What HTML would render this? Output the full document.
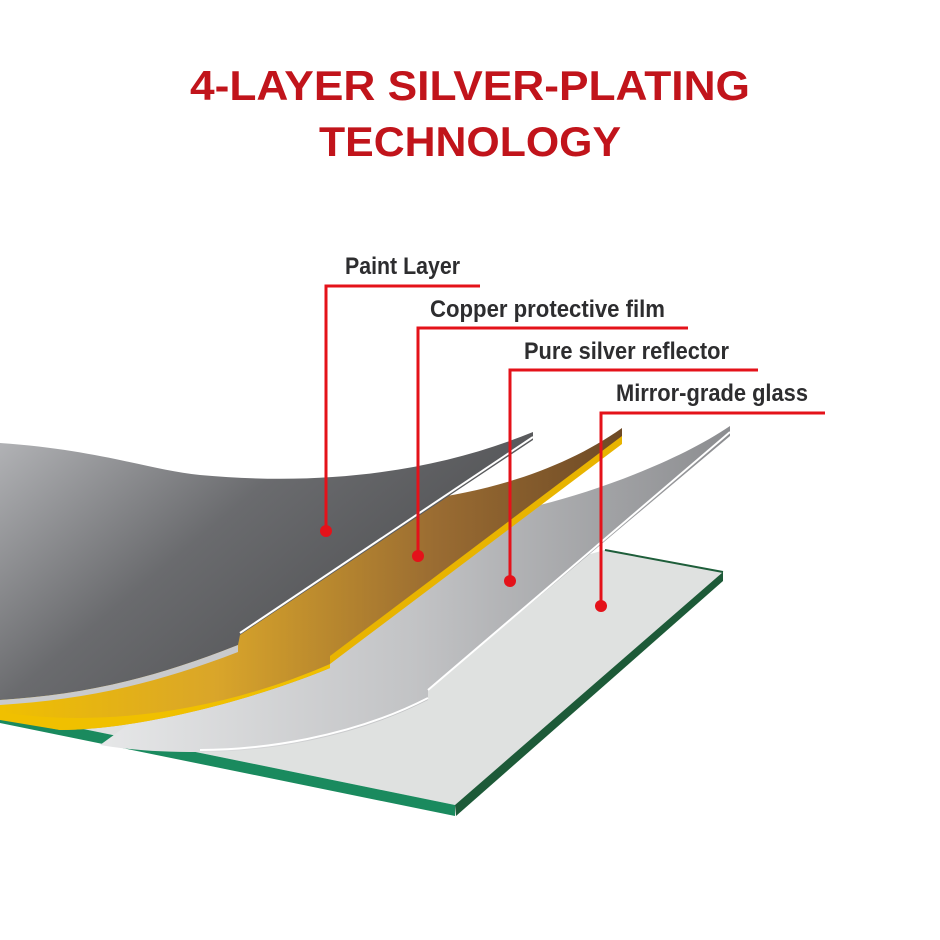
<!DOCTYPE html>
<html><head><meta charset="utf-8"><style>html,body{margin:0;padding:0;background:#fff}svg{display:block}</style></head>
<body>
<svg width="940" height="940" viewBox="0 0 940 940" xmlns="http://www.w3.org/2000/svg">
<defs>
<linearGradient id="paint" x1="0" y1="0" x2="1" y2="0.6">
<stop offset="0" stop-color="#b4b5b8"/><stop offset="0.45" stop-color="#6a6b6e"/><stop offset="1" stop-color="#4a4b4d"/></linearGradient>
<linearGradient id="cop" x1="0" y1="0" x2="1" y2="0">
<stop offset="0" stop-color="#f0c000"/><stop offset="0.35" stop-color="#d9a52a"/><stop offset="0.7" stop-color="#9a6c32"/><stop offset="1" stop-color="#6e4a26"/></linearGradient>
<linearGradient id="sil" x1="0" y1="0" x2="1" y2="0">
<stop offset="0" stop-color="#e6e7e8"/><stop offset="0.5" stop-color="#c2c3c5"/><stop offset="1" stop-color="#8c8d90"/></linearGradient>
</defs>
<text x="470" y="100" text-anchor="middle" font-family="Liberation Sans, sans-serif" font-weight="bold" font-size="42" fill="#c1141b" textLength="560" lengthAdjust="spacingAndGlyphs">4-LAYER SILVER-PLATING</text>
<text x="470" y="156" text-anchor="middle" font-family="Liberation Sans, sans-serif" font-weight="bold" font-size="42" fill="#c1141b" textLength="302" lengthAdjust="spacingAndGlyphs">TECHNOLOGY</text>

<!-- glass -->
<path d="M0,712 L605,550 L723,572 L455,805 Z" fill="#dfe1e0"/>
<path d="M605,550 L723,572" stroke="#1e5e3a" stroke-width="2"/>
<path d="M0,712 L455,805 L455,816 L0,723 Z" fill="#1a8a5e"/>
<path d="M455,805 L723,572 L723,581 L456,816 Z" fill="#1d5a38"/>

<!-- silver -->
<path d="M100,745 L300,600 L540,505 C600,490 680,460 730,426 L730,436 L428,690 L428,700 C350,740 260,752 200,752 C160,752 130,750 100,745 Z" fill="url(#sil)"/>
<path d="M730,432 L428,690" stroke="#fff" stroke-width="2"/>
<path d="M428,698 C350,738 260,750 200,750" stroke="#fff" stroke-width="2" fill="none"/>

<!-- copper -->
<path d="M0,700 L200,600 L420,500 C500,490 570,465 622,428 L622,438 L330,658 L330,668 C240,705 130,730 60,730 L0,718 Z" fill="url(#cop)"/>
<path d="M622,436 L330,656 L330,664 L622,444 Z" fill="#e8b400"/>
<path d="M0,712 C100,728 220,712 330,664 L330,668 C240,705 130,730 60,730 L0,720 Z" fill="#f0c000"/>

<!-- paint -->
<path d="M0,443 C100,450 150,470 200,475 C330,487 440,470 533,432 L533,440 L240,635 L238,645 C150,680 80,695 0,700 Z" fill="url(#paint)"/>
<path d="M533,437 L240,633" stroke="#fff" stroke-width="2"/>
<path d="M238,645 C150,680 80,695 0,700 L0,705 C80,700 150,686 238,652 Z" fill="#c9cacc"/>

<!-- leaders -->
<g stroke="#e4121a" stroke-width="3" fill="none">
<path d="M480,286 H326 V530"/>
<path d="M688,328 H418 V555"/>
<path d="M758,370 H510 V580"/>
<path d="M825,413 H601 V605"/>
</g>
<g fill="#e4121a">
<circle cx="326" cy="531" r="6"/><circle cx="418" cy="556" r="6"/><circle cx="510" cy="581" r="6"/><circle cx="601" cy="606" r="6"/>
</g>
<g font-family="Liberation Sans, sans-serif" font-weight="bold" font-size="24" fill="#2d2d2f">
<text x="345" y="274" textLength="115" lengthAdjust="spacingAndGlyphs">Paint Layer</text>
<text x="430" y="317" textLength="235" lengthAdjust="spacingAndGlyphs">Copper protective film</text>
<text x="524" y="359" textLength="205" lengthAdjust="spacingAndGlyphs">Pure silver reflector</text>
<text x="616" y="401" textLength="192" lengthAdjust="spacingAndGlyphs">Mirror-grade glass</text>
</g>
</svg>
</body></html>
